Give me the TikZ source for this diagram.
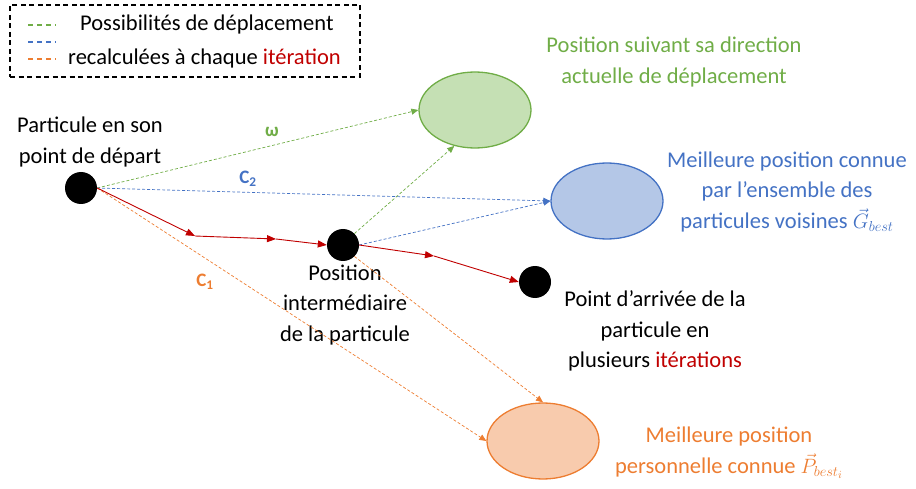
\documentclass[tikz,border=0pt]{standalone}
\usepackage{fontspec}
\setmainfont{Carlito}
\usetikzlibrary{arrows.meta,shapes.geometric}
\definecolor{cgreen}{HTML}{70AD47}
\definecolor{cgreenf}{HTML}{C5E0B4}
\definecolor{cblue}{HTML}{4472C4}
\definecolor{cbluef}{HTML}{B4C7E7}
\definecolor{corange}{HTML}{ED7D31}
\definecolor{corangef}{HTML}{F8CBAD}
\definecolor{cred}{HTML}{C00000}
\tikzset{
  txt/.style={align=center,font=\fontsize{22.5}{30.5}\selectfont,inner sep=0pt},
  particle/.style={circle,fill=black,minimum size=32pt,inner sep=0pt},
  target/.style={ellipse,draw,line width=1.3pt,minimum width=112pt,minimum height=76pt,inner sep=0pt},
  poss/.style={densely dashed,line width=0.7pt,-{Triangle[length=7pt,width=6pt]}},
  redarr/.style={cred,line width=0.9pt,-{Triangle[length=9pt,width=7pt]}},
  coef/.style={font=\fontsize{19}{22}\selectfont\bfseries,inner sep=0pt}
}
\begin{document}
\begin{tikzpicture}[x=1pt,y=-1pt]
\useasboundingbox (0,0) rectangle (916,489);
% legend
\node[draw,dash pattern=on 5pt off 3.5pt,line width=1.3pt,minimum width=350pt,minimum height=72pt,inner sep=0pt] (legend) at (185,41) {};
\coordinate (g1) at (28,25); \coordinate (g2) at (56,25);
\coordinate (b1) at (28,42); \coordinate (b2) at (56,42);
\coordinate (o1) at (28,59); \coordinate (o2) at (56,59);
\draw[cgreen,dash pattern=on 5pt off 4pt,line width=1.2pt] (g1) -- (g2);
\draw[cblue,dash pattern=on 5pt off 4pt,line width=1.2pt] (b1) -- (b2);
\draw[corange,dash pattern=on 5pt off 4pt,line width=1.2pt] (o1) -- (o2);
\node[txt,anchor=west] (leg1) at (80,25) {Possibilités de déplacement};
\node[txt,anchor=west] (leg2) at (68,59) {recalculées à chaque \textcolor{cred}{itération}};
% particles
\node[particle] (start) at (81,188) {};
\node[particle] (mid) at (343,245) {};
\node[particle] (end) at (535,282) {};
% targets
\node[target,draw=cgreen,fill=cgreenf] (green) at (475,110) {};
\node[target,draw=cblue,fill=cbluef] (blue) at (607,201) {};
\node[target,draw=corange,fill=corangef] (orange) at (543,441) {};
% texts
\node[txt] (tstart) at (90,142) {Particule en son\\point de départ};
\node[txt] (tmid) at (345,305) {Position\\intermédiaire\\de la particule};
\node[txt] (tend) at (655,331) {Point d’arrivée de la\\particule en\\plusieurs \textcolor{cred}{itérations}};
\node[txt,text=cgreen] (tgreen) at (674,62) {Position suivant sa direction\\actuelle de déplacement};
\node[txt,text=cblue] (tblue) at (787,192) {Meilleure position connue\\par l’ensemble des\\particules voisines $\vec{G}_{best}$};
\node[txt,text=corange] (torange) at (729,453) {Meilleure position\\personnelle connue $\vec{P}_{best_i}$};
% coefficient labels
\node[coef,text=cgreen] (w) at (272,132) {ω};
\node[coef,text=cblue] (c2) at (248,179) {C\textsubscript{2}};
\node[coef,text=corange] (c1) at (205,282) {C\textsubscript{1}};
% possibilities
\draw[poss,cgreen] (start.east) -- (green.west);
\draw[poss,cgreen] (mid.north east) -- (green.240);
\draw[poss,cblue] (start.east) -- (blue.west);
\draw[poss,cblue] (mid.east) -- (blue.west);
\draw[poss,corange] (start.east) -- (orange.west);
\draw[poss,corange] (mid.south east) -- (orange.north);
% red trajectory
\coordinate (r1) at (195,236);
\coordinate (r2) at (276,239);
\coordinate (r3) at (434,256);
\draw[redarr] (start.east) -- (r1);
\draw[redarr] (r1) -- (r2);
\draw[redarr] (r2) -- (mid.west);
\draw[redarr] (mid.east) -- (r3);
\draw[redarr] (r3) -- (end.west);
\end{tikzpicture}
\end{document}
